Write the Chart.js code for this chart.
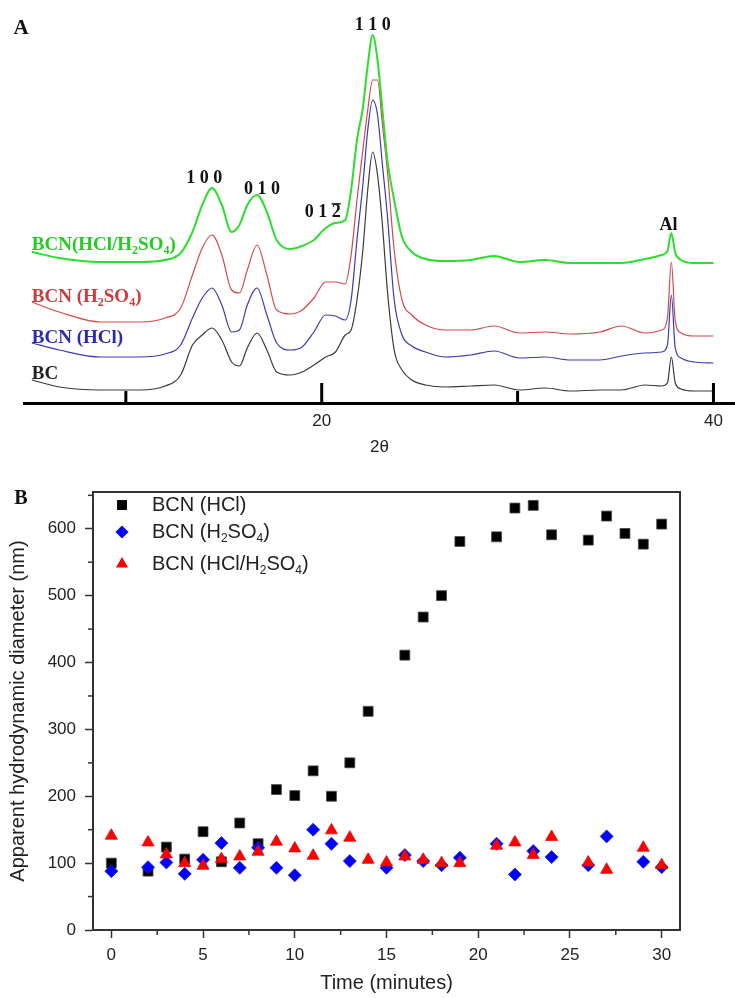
<!DOCTYPE html>
<html>
<head>
<meta charset="utf-8">
<title>BCN XRD and DLS</title>
<script src="https://cdn.jsdelivr.net/npm/chart.js@4.4.1/dist/chart.umd.min.js"></script>
<style>
  body { margin: 0; background: #fff; }
  .panel { position: absolute; left: 0; width: 735px; }
</style>
</head>
<body>
<div class="panel" style="top:0;height:460px"><canvas id="chart-a"></canvas></div>
<div class="panel" style="top:460px;height:538px"><canvas id="chart-b"></canvas></div>
<script>
/************************ data for panel A (XRD) *****************************/

const twoTheta = [5.2, 6.6, 8.7, 10.7, 12.0, 12.8, 13.4, 13.9, 14.4, 14.9,
  15.4, 15.8, 16.2, 16.7, 17.2, 17.7, 18.4, 19.0, 19.6, 20.2,
  20.7, 21.2, 21.5, 21.8, 22.1, 22.35, 22.6, 22.85, 23.1, 23.35,
  23.7, 24.1, 24.6, 25.3, 26.3, 27.6, 28.8, 30.1, 31.4, 32.7,
  34.2, 35.3, 36.5, 37.35, 37.65, 37.85, 38.05, 38.35, 39.0, 40.0];

// intensities in arbitrary units, curves already stacked as in the figure
const mixXrd = [151, 145, 141, 141, 143, 150, 171, 198, 215, 198,
  171, 178, 198, 208, 191, 163, 154, 157, 163, 175,
  180, 183, 213, 263, 295, 338, 368, 343, 293, 243,
  203, 166, 151, 144, 142, 143, 147, 141, 143, 140,
  140, 140, 144, 148, 152, 170, 150, 143, 140, 140];
const h2so4Xrd = [101, 91, 81, 81, 85, 95, 128, 155, 168, 148,
  113, 110, 133, 158, 128, 93, 89, 93, 105, 121,
  121, 119, 148, 203, 253, 293, 323, 323, 278, 233,
  153, 103, 88, 78, 73, 73, 77, 70, 71, 69,
  71, 77, 70, 73, 85, 141, 82, 70, 67, 67];
const hclXrd = [60, 53, 46, 46, 49, 58, 85, 105, 115, 98,
  71, 73, 98, 115, 88, 60, 53, 56, 71, 88,
  87, 83, 103, 163, 218, 273, 303, 288, 238, 188,
  103, 68, 57, 51, 46, 48, 52, 45, 46, 43,
  43, 47, 50, 51, 58, 108, 55, 45, 41, 40];
const bcXrd = [23, 16, 13, 13, 17, 28, 58, 68, 75, 63,
  41, 37, 55, 70, 53, 31, 28, 31, 38, 46,
  51, 68, 73, 103, 153, 213, 251, 228, 178, 113,
  53, 33, 23, 18, 16, 17, 18, 13, 15, 12,
  13, 13, 18, 17, 20, 46, 20, 14, 12, 12];

const xrdTicks = [10, 20, 30, 40];
const xrdLabeled = [20, 40];

/************************ data for panel B (DLS) *****************************/

const timeHCl = [0, 2, 3, 4, 5, 6, 7, 8, 9, 10, 11, 12, 13, 14, 16, 17, 18, 19, 21, 22, 23, 24, 26, 27, 28, 29, 30];
const diamHCl = [100, 88, 124, 106, 147, 102, 160, 129, 210, 201, 238, 200, 250, 327, 411, 468, 500, 581, 588, 631, 635, 591, 583, 619, 593, 577, 607];

const timeH2SO4 = [0, 2, 3, 4, 5, 6, 7, 8, 9, 10, 11, 12, 13, 15, 16, 17, 18, 19, 21, 22, 23, 24, 26, 27, 29, 30];
const diamH2SO4 = [88, 94, 101, 84, 105, 130, 93, 123, 93, 82, 150, 129, 103, 93, 112, 103, 97, 108, 129, 83, 118, 109, 97, 140, 102, 94];

const timeMix = [0, 2, 3, 4, 5, 6, 7, 8, 9, 10, 11, 12, 13, 14, 15, 16, 17, 18, 19, 21, 22, 23, 24, 26, 27, 29, 30];
const diamMix = [141, 131, 113, 100, 96, 106, 110, 117, 132, 122, 111, 149, 138, 105, 101, 110, 105, 100, 100, 126, 131, 112, 139, 101, 90, 123, 97];

const timeTicks = [0, 5, 10, 15, 20, 25, 30];
const timeMinor = [2.5, 7.5, 12.5, 17.5, 22.5, 27.5];
const diamTicks = [0, 100, 200, 300, 400, 500, 600];
const diamMinor = [50, 150, 250, 350, 450, 550, 650];

/************************ small drawing helpers ******************************/

// parts: [text, kind] where kind is '', 'sub' or 'bar' (overline)
function drawParts(ctx, parts, x, y, size, family, weight, color, align) {
  const main = weight + " " + size + "px " + family;
  const small = weight + " " + Math.round(size * 0.62) + "px " + family;
  let total = 0;
  parts.forEach(function (p) {
    ctx.font = p[1] === "sub" ? small : main;
    total += ctx.measureText(p[0]).width;
  });
  let cx = align === "center" ? x - total / 2 : x;
  ctx.fillStyle = color;
  ctx.strokeStyle = color;
  ctx.textBaseline = "middle";
  ctx.textAlign = "left";
  parts.forEach(function (p) {
    ctx.font = p[1] === "sub" ? small : main;
    const w = ctx.measureText(p[0]).width;
    ctx.fillText(p[0], cx, p[1] === "sub" ? y + size * 0.32 : y);
    if (p[1] === "bar") {
      ctx.lineWidth = 1.5;
      ctx.beginPath();
      ctx.moveTo(cx, y - size * 0.45);
      ctx.lineTo(cx + w, y - size * 0.45);
      ctx.stroke();
    }
    cx += w;
  });
}

function drawMarker(ctx, style, x, y, r, color) {
  ctx.fillStyle = color;
  ctx.beginPath();
  if (style === "rect") {
    const s = Math.SQRT1_2 * r;
    ctx.rect(x - s, y - s, 2 * s, 2 * s);
  } else if (style === "rectRot") {
    ctx.moveTo(x - r, y);
    ctx.lineTo(x, y - r);
    ctx.lineTo(x + r, y);
    ctx.lineTo(x, y + r);
    ctx.closePath();
  } else {
    ctx.moveTo(x, y - r);
    ctx.lineTo(x + 0.866 * r, y + 0.5 * r);
    ctx.lineTo(x - 0.866 * r, y + 0.5 * r);
    ctx.closePath();
  }
  ctx.fill();
}

function pairs(xs, ys) {
  return xs.map(function (v, i) { return { x: v, y: ys[i] }; });
}

/************************* CHART A : XRD patterns ****************************/

const serif = '"Liberation Serif", "DejaVu Serif", serif';
const sans = '"Liberation Sans", Arial, sans-serif';

const xrdNotes = [
  { parts: [["1 1 0", ""]], x: 22.6, y: 378, color: "#111" },
  { parts: [["1 0 0", ""]], x: 14.0, y: 225, color: "#111" },
  { parts: [["0 1 0", ""]], x: 16.95, y: 214, color: "#111" },
  { parts: [["0 1 ", ""], ["2", "bar"]], x: 20.05, y: 191, color: "#111" },
  { parts: [["Al", ""]], x: 37.7, y: 178, color: "#111" },
];
const curveNotes = [
  { parts: [["BCN(HCl/H", ""], ["2", "sub"], ["SO", ""], ["4", "sub"], [")", ""]], y: 158, color: "#22cc22" },
  { parts: [["BCN (H", ""], ["2", "sub"], ["SO", ""], ["4", "sub"], [")", ""]], y: 106, color: "#cc3b3b" },
  { parts: [["BCN (HCl)", ""]], y: 65, color: "#2b2bb0" },
  { parts: [["BC", ""]], y: 29, color: "#222" },
];

const xrdDecor = {
  id: "xrdDecor",
  afterDraw(chart) {
    const ctx = chart.ctx;
    const xs = chart.scales.x;
    const ys = chart.scales.y;
    const base = chart.chartArea.bottom;
    ctx.save();
    // ticks pointing up into the plot
    ctx.strokeStyle = "#000";
    ctx.lineWidth = 3;
    xrdTicks.forEach(function (v) {
      const px = xs.getPixelForValue(v);
      const len = xrdLabeled.includes(v) ? 20 : 12;
      ctx.beginPath();
      ctx.moveTo(px, base);
      ctx.lineTo(px, base - len);
      ctx.stroke();
    });
    xrdNotes.forEach(function (n) {
      drawParts(ctx, n.parts, xs.getPixelForValue(n.x), ys.getPixelForValue(n.y), 18, serif, "bold", n.color, "center");
    });
    curveNotes.forEach(function (n) {
      drawParts(ctx, n.parts, xs.getPixelForValue(twoTheta[0]), ys.getPixelForValue(n.y), 19, serif, "bold", n.color, "left");
    });
    drawParts(ctx, [["A", ""]], 21, 29, 21, serif, "bold", "#111", "center");
    ctx.restore();
  },
};

const ctxA = document.getElementById("chart-a").getContext("2d");
const chartA = new Chart(ctxA, {
  type: "line",
  data: {
    datasets: [
      { label: "BCN(HCl/H₂SO₄)", data: pairs(twoTheta, mixXrd), borderColor: "#2fdc2f", borderWidth: 2 },
      { label: "BCN (H₂SO₄)", data: pairs(twoTheta, h2so4Xrd), borderColor: "#d04a4a", borderWidth: 1.2 },
      { label: "BCN (HCl)", data: pairs(twoTheta, hclXrd), borderColor: "#3a3ab8", borderWidth: 1.2 },
      { label: "BC", data: pairs(twoTheta, bcXrd), borderColor: "#3a3a3a", borderWidth: 1.2 },
    ],
  },
  options: {
    responsive: true,
    maintainAspectRatio: false,
    animation: false,
    layout: { padding: { left: 24, right: 0, top: 0, bottom: 0 } },
    elements: {
      point: { radius: 0 },
      line: { cubicInterpolationMode: "monotone", fill: false },
    },
    plugins: { legend: { display: false }, tooltip: { enabled: false } },
    scales: {
      x: {
        type: "linear",
        min: 4.8,
        max: 41.1,
        afterBuildTicks: function (s) { s.ticks = xrdTicks.map(function (v) { return { value: v }; }); },
        afterFit: function (s) { s.height = 57; },
        grid: { drawOnChartArea: false, drawTicks: false },
        border: { display: true, color: "#000", width: 3 },
        ticks: {
          padding: 8,
          color: "#222",
          font: { size: 17, family: sans },
          callback: function (v) { return xrdLabeled.includes(v) ? String(v) : ""; },
        },
        title: { display: true, text: "2θ", color: "#222", font: { size: 17, family: sans }, padding: { top: 0, bottom: 2 } },
      },
      y: { display: false, min: 0, max: 403 },
    },
  },
  plugins: [xrdDecor],
});

/************************* CHART B : hydrodynamic diameter *******************/

const legendNames = [
  [["BCN (HCl)", ""]],
  [["BCN (H", ""], ["2", "sub"], ["SO", ""], ["4", "sub"], [")", ""]],
  [["BCN (HCl/H", ""], ["2", "sub"], ["SO", ""], ["4", "sub"], [")", ""]],
];
const legendRows = [45, 72, 104];

const dlsDecor = {
  id: "dlsDecor",
  afterDraw(chart) {
    const ctx = chart.ctx;
    const a = chart.chartArea;
    const xs = chart.scales.x;
    const ys = chart.scales.y;
    ctx.save();
    ctx.strokeStyle = "#333";
    ctx.lineWidth = 2;
    ctx.strokeRect(a.left, a.top, a.right - a.left, a.bottom - a.top);
    ctx.lineWidth = 1.5;
    timeMinor.forEach(function (v) {
      const px = xs.getPixelForValue(v);
      ctx.beginPath();
      ctx.moveTo(px, a.bottom);
      ctx.lineTo(px, a.bottom + 5);
      ctx.stroke();
    });
    diamMinor.forEach(function (v) {
      const py = ys.getPixelForValue(v);
      ctx.beginPath();
      ctx.moveTo(a.left, py);
      ctx.lineTo(a.left - 5, py);
      ctx.stroke();
    });
    // legend in the upper left corner
    chart.data.datasets.forEach(function (ds, i) {
      drawMarker(ctx, ds.pointStyle, 122, legendRows[i], ds.pointRadius, ds.backgroundColor);
      drawParts(ctx, legendNames[i], 152, legendRows[i], 20, sans, "normal", "#222", "left");
    });
    drawParts(ctx, [["B", ""]], 21, 39, 20, serif, "bold", "#111", "center");
    ctx.restore();
  },
};

const ctxB = document.getElementById("chart-b").getContext("2d");
const chartB = new Chart(ctxB, {
  type: "scatter",
  data: {
    datasets: [
      {
        label: "BCN (HCl)",
        data: pairs(timeHCl, diamHCl),
        pointStyle: "rect",
        pointRadius: 7,
        backgroundColor: "#000000",
        borderColor: "#444",
        borderWidth: 0.8,
        order: 3,
      },
      {
        label: "BCN (H₂SO₄)",
        data: pairs(timeH2SO4, diamH2SO4),
        pointStyle: "rectRot",
        pointRadius: 6.5,
        backgroundColor: "#0000ff",
        borderColor: "#2020d0",
        borderWidth: 0.8,
        order: 2,
      },
      {
        label: "BCN (HCl/H₂SO₄)",
        data: pairs(timeMix, diamMix),
        pointStyle: "triangle",
        pointRadius: 7,
        backgroundColor: "#ff0000",
        borderColor: "#e01010",
        borderWidth: 0.8,
        order: 1,
      },
    ],
  },
  options: {
    responsive: true,
    maintainAspectRatio: false,
    animation: false,
    layout: { padding: { left: 0, right: 55, top: 32, bottom: 0 } },
    plugins: { legend: { display: false }, tooltip: { enabled: false } },
    scales: {
      x: {
        type: "linear",
        min: -1,
        max: 31,
        afterBuildTicks: function (s) { s.ticks = timeTicks.map(function (v) { return { value: v }; }); },
        afterFit: function (s) { s.height = 68; },
        grid: { drawOnChartArea: false, tickLength: 8, tickWidth: 1.5, tickColor: "#333" },
        border: { color: "#333", width: 2 },
        ticks: { padding: 7, color: "#222", font: { size: 17, family: sans } },
        title: { display: true, text: "Time (minutes)", color: "#222", font: { size: 20, family: sans }, padding: { top: 0, bottom: 3 } },
      },
      y: {
        min: 0,
        max: 655,
        afterBuildTicks: function (s) { s.ticks = diamTicks.map(function (v) { return { value: v }; }); },
        afterFit: function (s) { s.width = 93; },
        grid: { drawOnChartArea: false, tickLength: 8, tickWidth: 1.5, tickColor: "#333" },
        border: { color: "#333", width: 2 },
        ticks: { padding: 9, color: "#222", font: { size: 17, family: sans } },
        title: { display: true, text: "Apparent hydrodynamic diameter (nm)", color: "#222", font: { size: 20, family: sans }, padding: { top: 6, bottom: 0 } },
      },
    },
  },
  plugins: [dlsDecor],
});
</script>
</body>
</html>
